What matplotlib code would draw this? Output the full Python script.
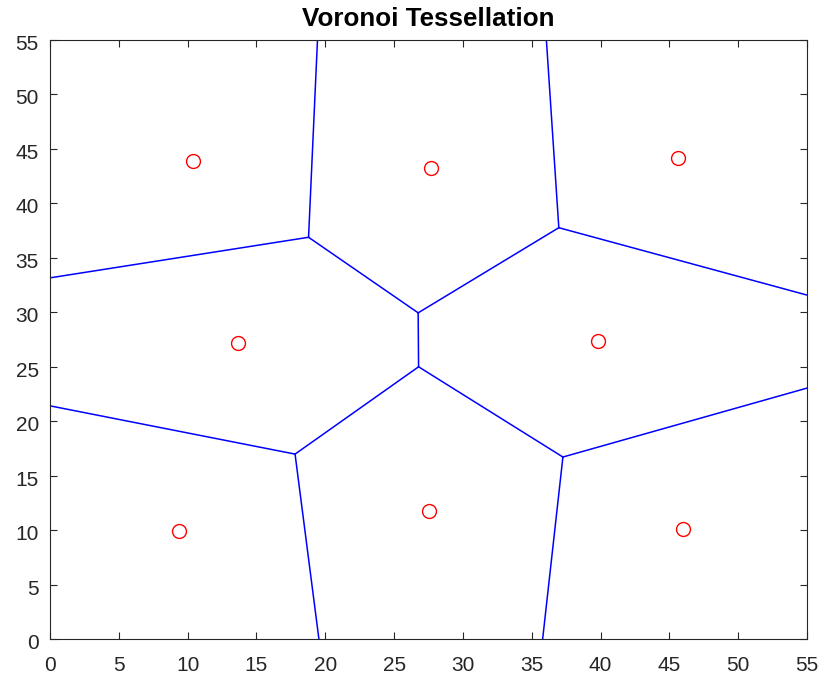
import numpy as np
import matplotlib
matplotlib.use("Agg")
import matplotlib.pyplot as plt
from matplotlib.transforms import ScaledTranslation
from itertools import combinations

# Generator points
px = [10.37, 27.68, 45.63, 13.68, 39.85, 9.37, 27.50, 46.01]
py = [43.89, 43.27, 44.21, 27.20, 27.36, 9.88, 11.73, 10.10]

x_ticks = [0, 5, 10, 15, 20, 25, 30, 35, 40, 45, 50, 55]
y_ticks = [0, 5, 10, 15, 20, 25, 30, 35, 40, 45, 50, 55]
title = "Voronoi Tessellation"

P = np.column_stack([px, py])
n = len(P)


def circumcenter(a, b, c):
    d = 2 * (a[0] * (b[1] - c[1]) + b[0] * (c[1] - a[1]) + c[0] * (a[1] - b[1]))
    ux = ((a @ a) * (b[1] - c[1]) + (b @ b) * (c[1] - a[1]) + (c @ c) * (a[1] - b[1])) / d
    uy = ((a @ a) * (c[0] - b[0]) + (b @ b) * (a[0] - c[0]) + (c @ c) * (b[0] - a[0])) / d
    return np.array([ux, uy])


# Brute-force Delaunay triangles
tris = []
for i, j, k in combinations(range(n), 3):
    a, b, c = P[i], P[j], P[k]
    area = (b[0] - a[0]) * (c[1] - a[1]) - (b[1] - a[1]) * (c[0] - a[0])
    if abs(area) < 1e-9:
        continue
    cc = circumcenter(a, b, c)
    r = np.linalg.norm(a - cc)
    ok = True
    for m in range(n):
        if m in (i, j, k):
            continue
        if np.linalg.norm(P[m] - cc) < r - 1e-9:
            ok = False
            break
    if ok:
        tris.append(((i, j, k), cc))

segments = []
far = 1000.0
for i, j in combinations(range(n), 2):
    owners = [(t, cc) for t, cc in tris if i in t and j in t]
    if len(owners) == 2:
        segments.append((owners[0][1], owners[1][1]))
    elif len(owners) == 1:
        t, cc = owners[0]
        k = [v for v in t if v not in (i, j)][0]
        e = P[j] - P[i]
        nrm = np.array([-e[1], e[0]]) / np.linalg.norm(e)
        mid = (P[i] + P[j]) / 2
        if np.dot(P[k] - mid, nrm) > 0:
            nrm = -nrm
        segments.append((cc, cc + nrm * far))

fig = plt.figure(figsize=(8.27, 6.84), dpi=100)
ax = fig.add_axes([50 / 827, 45 / 684, 757 / 827, 599 / 684])

for s0, s1 in segments:
    ax.plot([s0[0], s1[0]], [s0[1], s1[1]], color=(0, 0, 1), lw=1.1)

ax.plot(px, py, 'o', mfc='none', mec=(1, 0, 0), ms=10, mew=1.0, ls='none')

ax.set_xlim(0, 55)
ax.set_ylim(0, 55)
ax.set_xticks(x_ticks)
ax.set_yticks(y_ticks)
grey = (0.15, 0.15, 0.15)
ax.tick_params(direction='in', length=5, width=0.8, top=True, right=True,
               labelsize=15, colors=grey)
ax.tick_params(axis='x', pad=12)
ax.tick_params(axis='y', pad=8)
for sp in ax.spines.values():
    sp.set_color(grey)
    sp.set_linewidth(0.8)
for lab in ax.get_xticklabels() + ax.get_yticklabels():
    lab.set_family('Liberation Sans')
shift = ScaledTranslation(0, -4.5 / 100, fig.dpi_scale_trans)
for lab in ax.get_yticklabels():
    lab.set_verticalalignment('center')
    lab.set_transform(lab.get_transform() + shift)
ax.set_title(title, fontsize=18.7, fontweight='bold', family='Liberation Sans',
             color='black', pad=10)

fig.savefig("out.png", dpi=100, facecolor='white')
